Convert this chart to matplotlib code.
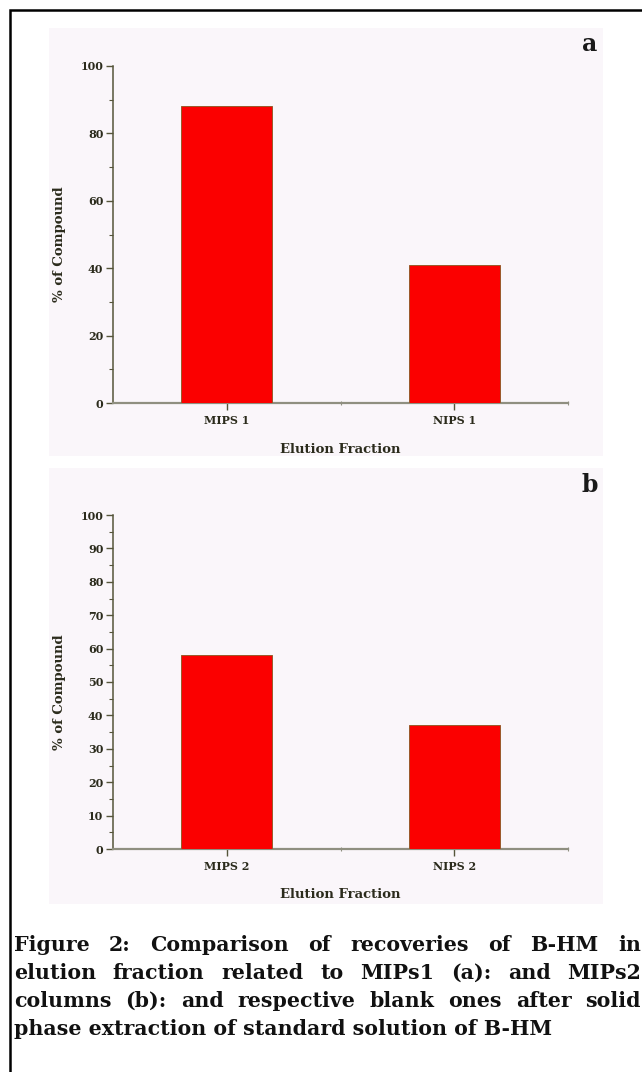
import matplotlib
matplotlib.use("Agg")
import matplotlib.pyplot as plt
from matplotlib.patches import Rectangle
from matplotlib.ticker import MultipleLocator, FixedLocator

# data
cats_a = ['MIPS 1', 'NIPS 1']
vals_a = [88, 41]
cats_b = ['MIPS 2', 'NIPS 2']
vals_b = [58, 37]

caption_lines = [
    "Figure 2: Comparison of recoveries of B-HM in",
    "elution fraction related to MIPs1 (a): and MIPs2",
    "columns (b): and respective blank ones after solid",
    "phase extraction of standard solution of B-HM",
]

W, H = 642, 1072
fig = plt.figure(figsize=(W / 100, H / 100), dpi=100)
fig.patch.set_facecolor('white')

def fx(px):
    return px / W

def fy(py):
    return 1 - py / H

# outer frame (right/bottom edges fall outside the picture)
fig.add_artist(Rectangle((fx(10), fy(1090)), fx(660), 1080 / H, transform=fig.transFigure,
                         fill=False, edgecolor='black', lw=1.8))

# light panel backgrounds
for top, bot in [(28, 456), (468, 904)]:
    fig.add_artist(Rectangle((fx(49), fy(bot)), fx(554), (bot - top) / H, transform=fig.transFigure,
                             facecolor='#faf6fa', edgecolor='none', zorder=0))

serif = 'DejaVu Serif'
spine_col = '#55553a'
text_col = '#2b2b1c'


def panel(rect, cats, vals, major, minor, letter, letter_y):
    ax = fig.add_axes(rect)
    ax.set_facecolor('none')
    pos = [0.5, 1.5]
    ax.bar(pos, vals, width=0.4, color='#fb0000', edgecolor='#9a5a2a', lw=0.7, zorder=3)
    ax.set_xlim(0, 2)
    ax.set_ylim(0, 100)
    for s in ['top', 'right']:
        ax.spines[s].set_visible(False)
    ax.spines['left'].set_color(spine_col)
    ax.spines['left'].set_linewidth(1.1)
    ax.spines['bottom'].set_color('#8f8f80')
    ax.spines['bottom'].set_linewidth(1.6)
    ax.yaxis.set_major_locator(MultipleLocator(major))
    ax.yaxis.set_minor_locator(MultipleLocator(minor))
    ax.set_xticks(pos)
    ax.set_xticklabels(cats)
    ax.xaxis.set_minor_locator(FixedLocator([1, 2]))
    ax.tick_params(axis='y', which='major', direction='out', length=5, width=1, color=spine_col,
                   labelsize=8, labelcolor=text_col, pad=2)
    ax.tick_params(axis='y', which='minor', direction='out', length=3, width=0.8, color=spine_col)
    ax.tick_params(axis='x', which='major', direction='out', length=5, width=1, color=spine_col,
                   labelsize=8, labelcolor=text_col, pad=4)
    ax.tick_params(axis='x', which='minor', direction='inout', length=3, width=0.8, color='#8f8f80')
    for lab in ax.get_xticklabels() + ax.get_yticklabels():
        lab.set_fontfamily(serif)
        lab.set_fontweight('bold')
    ax.set_ylabel('% of Compound', fontfamily=serif, fontweight='bold', fontsize=9.5, color=text_col)
    ax.set_xlabel('Elution Fraction', fontfamily=serif, fontweight='bold', fontsize=9.5, color=text_col)
    ax.yaxis.set_label_coords(-0.103, 0.47)
    ax.xaxis.set_label_coords(0.5, -0.118)
    fig.text(fx(590), fy(letter_y), letter, fontfamily=serif, fontweight='bold', fontsize=17,
             color='#1a1a1a', ha='center', va='center')
    return ax


panel([fx(113), fy(403), fx(455), 337 / H], cats_a, vals_a, 20, 10, 'a', 44)
panel([fx(113), fy(849), fx(455), 334 / H], cats_b, vals_b, 10, 5, 'b', 485)

# caption, justified like the source page
cap_font = 'DejaVu Serif'
left_px, right_px = 14, 641
line_y = [945, 973, 1001, 1029]
cap_size = 14.8
renderer = fig.canvas.get_renderer()
for i, line in enumerate(caption_lines):
    words = line.split(' ')
    if i == len(caption_lines) - 1:
        fig.text(fx(left_px), fy(line_y[i]), line, fontfamily=cap_font, fontweight='bold',
                 fontsize=cap_size, color='#111111', ha='left', va='center')
        continue
    arts = [fig.text(0, fy(line_y[i]), w, fontfamily=cap_font, fontweight='bold', fontsize=cap_size,
                     color='#111111', ha='left', va='center') for w in words]
    widths = [a.get_window_extent(renderer).width for a in arts]
    gap = (right_px - left_px - sum(widths)) / (len(words) - 1)
    x = left_px
    for a, w in zip(arts, widths):
        a.set_x(fx(x))
        x += w + gap

fig.savefig('out.png', dpi=100, facecolor='white')
